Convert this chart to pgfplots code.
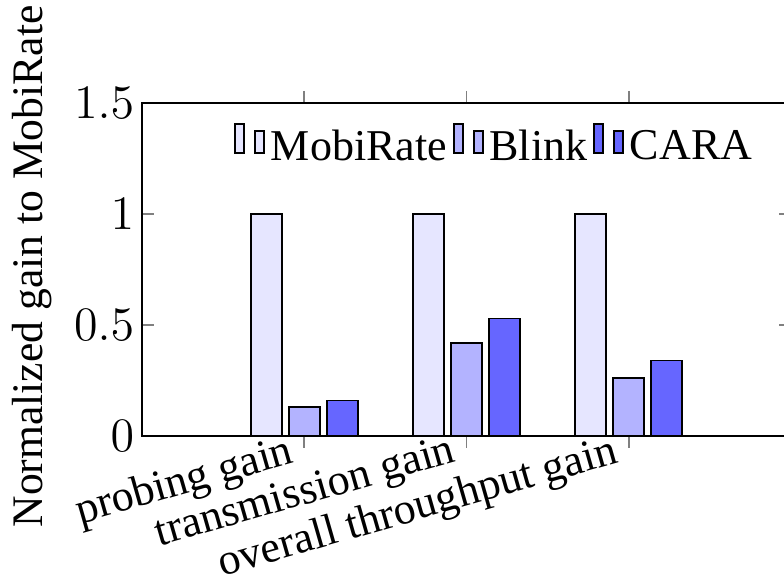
\documentclass[border=0pt,11pt]{standalone}
\usepackage{fontspec}
\setmainfont{Liberation Serif}
\usepackage{pgfplots}
\pgfplotsset{compat=1.18}

\definecolor{cMobi}{RGB}{230,230,255}
\definecolor{cBlink}{RGB}{179,179,255}
\definecolor{cCARA}{RGB}{102,102,255}

\begin{document}
\begin{tikzpicture}
\begin{axis}[
  scale only axis,
  width=162.25pt, height=83.25pt,
  ybar=1.75pt, bar width=7.75pt,
  xmin=-1, xmax=3,
  ymin=0, ymax=1.5,
  xtick={0,1,2},
  xticklabels={probing gain, transmission gain, overall throughput gain},
  ytick={0,0.5,1,1.5},
  x tick style={gray, thin},
  y tick style={gray, thin},
  xtick align=outside,
  ytick align=inside,
  major tick length=3pt,
  x tick label style={rotate=16, anchor=north east, inner sep=0pt,
    xshift=-3pt, yshift=5pt, font=\fontsize{11}{13}\selectfont},
  y tick label style={font=\fontsize{12}{14}\selectfont, inner sep=0pt, xshift=-1.75pt},
  ylabel={Normalized gain to MobiRate},
  ylabel style={at={(axis description cs:-0.125,0.509)}, anchor=south,
    inner xsep=0pt, inner ysep=2pt, font=\fontsize{10.9}{13}\selectfont},
  legend style={at={(1,1)}, anchor=north east, xshift=-8pt, yshift=-4.5pt,
    draw=none, fill=none, inner sep=0pt,
    legend columns=-1, font=\fontsize{11}{13}\selectfont,
    nodes={inner xsep=1.5pt},
    /tikz/every even column/.append style={column sep=0pt}},
  legend image code/.code={%
    \draw[#1, /tikz/.cd, bar width=2.25pt, bar shift=0pt, yshift=-0.1em]
      plot coordinates {(0pt,7.25pt) (5pt,5.5pt)};},
]
\addplot[draw=black, fill=cMobi] coordinates {(0,1) (1,1) (2,1)};
\addplot[draw=black, fill=cBlink] coordinates {(0,0.13) (1,0.42) (2,0.26)};
\addplot[draw=black, fill=cCARA] coordinates {(0,0.16) (1,0.53) (2,0.34)};
\legend{MobiRate, Blink, CARA}
\end{axis}
% fixed frame around the axis, cutting the right border line
\pgfresetboundingbox
\path[use as bounding box]
  ([xshift=-35.5pt, yshift=-34.75pt]current axis.south west)
  rectangle ([xshift=-1.75pt, yshift=25.75pt]current axis.north east);
\end{tikzpicture}
\end{document}
